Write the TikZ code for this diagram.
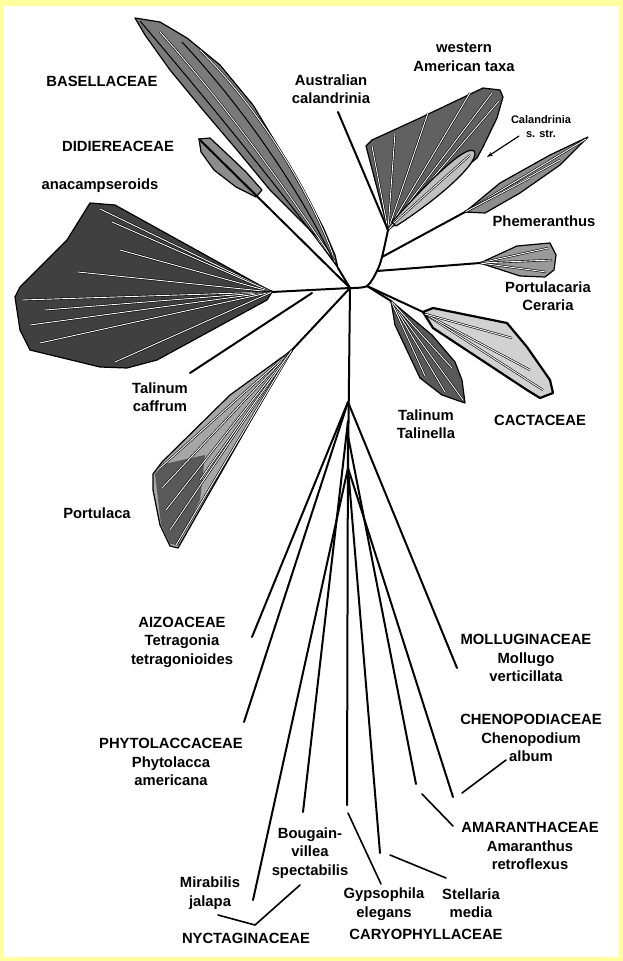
\documentclass[tikz,border=0pt]{standalone}
\usepackage{fontspec}
\setmainfont{Liberation Sans}
\usetikzlibrary{arrows.meta}
\definecolor{framey}{RGB}{255,255,160}
\tikzset{
  branch/.style={line width=2pt, line cap=round},
  clade/.style={draw=black, line width=1.2pt, line join=round},
  vein/.style={double=white, double distance=0.9pt, line width=0.6pt},
  taxon/.style={font=\bfseries\fontsize{14.8}{18.5}\selectfont, align=center, inner sep=0pt},
  leader/.style={line width=1.6pt, line cap=round},
}

\begin{document}
\begin{tikzpicture}[x=1pt,y=-1pt]
\useasboundingbox (0,0) rectangle (623,961);
\fill[framey] (0,0) rectangle (623,961);
\fill[white] (4,6) rectangle (619,957);

\coordinate (jl) at (350,288);
\coordinate (jr) at (367,286);
\coordinate (jc) at (377,271);
\coordinate (jph) at (382,257);
\coordinate (jw) at (388,230);
\coordinate (jan) at (312,293);
\coordinate (jfan) at (348,402);
\coordinate (jb) at (348,421);
\coordinate (jd) at (348,436);
\coordinate (je) at (348,468);

\coordinate (tbas) at (338,268);
\coordinate (tdid) at (199,139);
\coordinate (tana) at (272,292);
\coordinate (tcaf) at (190,373);
\coordinate (tpor) at (292,350);
\coordinate (taus) at (338,112);
\coordinate (tphe) at (465,212);
\coordinate (tpca) at (480,263);
\coordinate (tcac) at (423,312);
\coordinate (ttal) at (391,301);
\coordinate (taiz) at (252,637);
\coordinate (tphy) at (244,722);
\coordinate (tmol) at (457,668);
\coordinate (tbou) at (303,812);
\coordinate (tama) at (416,784);
\coordinate (tmir) at (253,900);
\coordinate (tche) at (453,797);
\coordinate (tcar) at (347,805);
\coordinate (tste) at (380,853);

\draw[clade, fill=black!52] (135,18) -- (160,22) -- (187,38) -- (220,65) -- (253,105) -- (280,150) -- (307,197) -- (323,227) -- (335,255) -- (tbas) -- (323,243) -- (303,223) -- (270,190) -- (237,150) -- (203,110) -- (170,70) -- (145,35) -- cycle;
\draw[vein] (160,32) .. controls (235,115) and (300,210) .. (335,262);
\draw[vein] (200,50) .. controls (270,120) and (315,205) .. (333,255);
\draw[line width=1pt] (140,21) .. controls (220,115) and (300,215) .. (tbas);
\draw[line width=1pt] (182,42) .. controls (250,115) and (305,200) .. (334,262);

\draw[clade, fill=black!45] (tdid) -- (210,138) -- (226,153) -- (246,172) -- (262,190) -- (256,197) -- (236,187) -- (214,170) -- (201,152) -- cycle;

\draw[clade, fill=black!75] (90,203) -- (115,205) -- (tana) -- (267,300) -- (157,360) -- (127,368) -- (100,367) -- (30,350) -- (20,330) -- (15,297) -- (20,287) -- (67,240) -- cycle;
\foreach \x/\y in {100/209, 112/222, 120/250, 78/272, 22/300, 45/310, 30/325, 40/343, 115/362}
  \draw[vein] (tana) -- (\x,\y);

\draw[clade, fill=black!35] (tpor) -- (250,422) -- (178,548) -- (170,546) -- (160,525) -- (153,490) -- (153,474) -- (162,462) -- (230,395) -- cycle;
\fill[black!65] (155,474) -- (164,464) -- (205,455) -- (200,500) -- (178,545) -- (170,544) -- (161,524) -- cycle;
\foreach \x/\y in {160/468, 162/488, 166/510, 170/530, 176/545, 200/480}
  \draw[vein] (tpor) -- (\x,\y);

\draw[clade, fill=black!62] (jw) -- (366,146) -- (372,140) -- (420,118) -- (483,88) -- (500,90) -- (503,97) -- (497,118) -- (483,147) -- (477,158) -- (450,180) -- (420,205) -- cycle;
\foreach \x/\y in {372/146, 395/133, 428/113, 470/93, 492/93, 499/101}
  \draw[vein] (jw) -- (\x,\y);
\draw[clade, fill=black!25] (392,222) .. controls (430,180) and (465,145) .. (474,151) .. controls (482,160) and (440,198) .. (396,226) -- cycle;
\draw[vein] (394,223) -- (470,155);

\draw[clade, fill=black!45] (tphe) -- (500,183) -- (550,155) -- (588,137) -- (560,165) -- (520,193) -- (485,213) -- cycle;
\foreach \x/\y in {586/139, 560/160, 530/178}
  \draw[vein] (tphe) -- (\x,\y);

\draw[clade, fill=black!40] (tpca) -- (517,246) -- (550,243) -- (556,255) -- (554,270) -- (545,277) -- (520,276) -- cycle;
\foreach \x/\y in {548/248, 552/260, 546/272}
  \draw[vein] (tpca) -- (\x,\y);

\draw[clade, line width=2.2pt, fill=black!18] (tcac) -- (433,308) -- (507,323) -- (527,347) -- (550,380) -- (553,393) -- (540,398) -- (527,390) -- (433,328) -- cycle;
\foreach \x/\y in {543/390, 530/370, 512/338}
  \draw[vein] (425,314) -- (\x,\y);

\draw[clade, fill=black!65] (ttal) -- (395,325) -- (420,378) -- (442,395) -- (465,403) -- (462,380) -- (455,362) -- (432,335) -- cycle;
\foreach \x/\y in {463/400, 445/392, 425/376, 452/368}
  \draw[vein] (ttal) -- (\x,\y);

\draw[branch] plot[smooth] coordinates {(jl) (jr) (jc) (jph) (jw)};
\draw[branch] (jl) -- (tana);
\draw[branch] (jan) -- (tcaf);
\draw[branch] (jl) -- (tbas);
\draw[branch] (jl) -- (tdid);
\draw[branch] (jl) -- (tpor);
\draw[branch] (jw) -- (taus);
\draw[branch] (jph) -- (tphe);
\draw[branch] (jc) -- (tpca);
\draw[branch] (jr) -- (tcac);
\draw[branch] (jr) -- (ttal);
\draw[branch] (jl) -- (je);
\draw[branch] (jfan) -- (taiz);
\draw[branch] (jfan) -- (tphy);
\draw[branch] (jfan) -- (tmol);
\draw[branch] (jb) -- (tbou);
\draw[branch] (jb) -- (tcar);
\draw[branch] (jd) -- (tama);
\draw[branch] (je) -- (tmir);
\draw[branch] (je) -- (tche);
\draw[branch] (je) -- (tste);

\node[taxon] (basel) at (102,81) {BASELLACEAE};
\node[taxon] (didier) at (118,146) {DIDIEREACEAE};
\node[taxon] (anacamp) at (100,186) {anacampseroids};
\node[taxon] (austcal) at (331,89) {Australian\\calandrinia};
\node[taxon] (western) at (464,57) {western\\American taxa};
\node[taxon, font=\bfseries\fontsize{11}{14}\selectfont] (calss) at (541,127) {Calandrinia\\s. str.};
\node[taxon] (phemer) at (544,221) {Phemeranthus};
\node[taxon] (portcer) at (548,296) {Portulacaria\\Ceraria};
\node[taxon] (talcaf) at (160,397) {Talinum\\caffrum};
\node[taxon] (portul) at (97,513) {Portulaca};
\node[taxon] (taltal) at (426,424) {Talinum\\Talinella};
\node[taxon] (cact) at (540,420) {CACTACEAE};
\node[taxon] (aizo) at (182,642) {AIZOACEAE\\Tetragonia\\tetragonioides};
\node[taxon] (phyto) at (171,762) {PHYTOLACCACEAE\\Phytolacca\\americana};
\node[taxon] (bouga) at (310,853) {Bougain-\\villea\\spectabilis};
\node[taxon] (mirab) at (210,893) {Mirabilis\\jalapa};
\node[taxon] (nyct) at (246,938) {NYCTAGINACEAE};
\node[taxon] (gyps) at (384,904) {Gypsophila\\elegans};
\node[taxon] (stell) at (471,903) {Stellaria\\media};
\node[taxon] (caryo) at (426,934) {CARYOPHYLLACEAE};
\node[taxon] (mollu) at (526,658) {MOLLUGINACEAE\\Mollugo\\verticillata};
\node[taxon] (cheno) at (531,738) {CHENOPODIACEAE\\Chenopodium\\album};
\node[taxon] (amara) at (530,846) {AMARANTHACEAE\\Amaranthus\\retroflexus};

\coordinate (calarr) at (519,136);
\coordinate (calhead) at (487,157);
\draw[leader, line width=1.2pt, -{Stealth[length=6pt,width=4pt]}] (calarr) -- (calhead);

\coordinate (nyv) at (255,925);
\coordinate (nymir) at (218,915);
\coordinate (nybou) at (300,885);
\draw[leader] (nymir) -- (nyv) -- (nybou);

\coordinate (gyp1) at (348,813);
\coordinate (gyp2) at (381,884);
\draw[leader] (gyp1) -- (gyp2);
\coordinate (ste1) at (390,855);
\coordinate (ste2) at (446,878);
\draw[leader] (ste1) -- (ste2);
\coordinate (ama1) at (422,794);
\coordinate (ama2) at (453,826);
\draw[leader] (ama1) -- (ama2);
\coordinate (che1) at (462,793);
\coordinate (che2) at (506,760);
\draw[leader] (che1) -- (che2);
\end{tikzpicture}
\end{document}
